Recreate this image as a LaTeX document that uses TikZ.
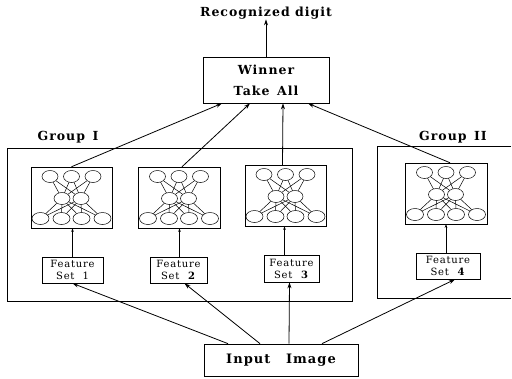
\documentclass[tikz,border=0pt]{standalone}
\usepackage{fontspec}
\setmainfont{DejaVu Serif}[LetterSpace=8]
\usetikzlibrary{arrows.meta,calc}

\tikzset{
  box/.style={draw, line width=0.7pt, rectangle, inner sep=0pt, align=center},
  netbox/.style={draw, line width=0.5pt, rectangle, inner sep=0pt},
  grpbox/.style={draw, line width=1pt, rectangle, inner sep=0pt},
  title/.style={font=\bfseries\fontsize{12.5}{14}\selectfont, inner sep=0pt},
  feat/.style={box, font=\fontsize{10}{12}\selectfont},
  link/.style={line width=0.8pt, -{Stealth[length=6pt,width=4pt]}},
  feed/.style={line width=0.5pt, -{Stealth[length=3.5pt,width=2.5pt]}},
  unit/.style={line width=0.5pt, fill=white},
  % small three-layer network: 3 top units, 2 hidden, 4 bottom
  mlp/.pic={
    \foreach \a in {-21.5,0,21.5}
      \foreach \b in {-9.5,9.5}
        \draw[line width=0.5pt] (\a,-21) -- (\b,1);
    \foreach \a in {-9.5,9.5}
      \foreach \b in {-31,-10,10,31}
        \draw[line width=0.5pt] (\a,1) -- (\b,21);
    \foreach \a in {-21.5,0,21.5}
      \draw[unit] (\a,-21) ellipse [x radius=8pt, y radius=6pt];
    \foreach \a in {-9.5,9.5}
      \draw[unit] (\a,1) ellipse [x radius=8pt, y radius=6pt];
    \foreach \a in {-31,-10,10,31}
      \draw[unit] (\a,21) ellipse [x radius=8.5pt, y radius=6pt];
  },
}

\begin{document}
\begin{tikzpicture}[x=1pt, y=-1pt]
\useasboundingbox (0,0) rectangle (512,378);

% output and decision
\node[title] (rec) at (266,13) {Recognized digit};
\node[box, title, minimum width=126pt, minimum height=46pt,
      font=\bfseries\fontsize{12.5}{21}\selectfont] (win) at (266,80)
      {Winner\\Take\hspace{0.6em}All};

% groups
\node[grpbox, minimum width=345pt, minimum height=153pt] (g1) at (179.5,224.5) {};
\draw[line width=1pt] (511,146) -| (377,298) -- (511,298);
\node[title] (g1lab) at (68,137) {Group\hspace{0.6em}I};
\node[title] (g2lab) at (453,137) {Group\hspace{0.6em}II};

% networks
\node[netbox, minimum width=81pt, minimum height=61pt] (n1) at (71.5,197.5) {};
\node[netbox, minimum width=82pt, minimum height=61pt] (n2) at (179,197.5) {};
\node[netbox, minimum width=81pt, minimum height=61pt] (n3) at (285.5,195.5) {};
\node[netbox, minimum width=82pt, minimum height=61pt] (n4) at (446,193.5) {};
\pic at (n1) {mlp};
\pic at (n2) {mlp};
\pic at (n3) {mlp};
\pic at (n4) {mlp};

% feature sets
\node[feat, minimum width=61pt, minimum height=26pt] (f1) at (72.5,270) {Feature\\Set\hspace{0.8em}1};
\node[feat, minimum width=57pt, minimum height=26pt] (f2) at (178.5,270) {Feature\\Set\hspace{0.8em}\textbf{2}};
\node[feat, minimum width=55pt, minimum height=27pt] (f3) at (291.5,268.5) {Feature\\Set\hspace{0.8em}\textbf{3}};
\node[feat, minimum width=64pt, minimum height=26pt] (f4) at (448,266) {Feature\\Set\hspace{0.8em}\textbf{4}};

% input
\node[box, title, minimum width=154pt, minimum height=32pt,
      font=\bfseries\fontsize{13}{15}\selectfont] (inp) at (281,360)
      {Input\hspace{1.2em}Image};

% connectors
\draw[link] (win.north) -- (rec.south);
\draw[link] (n1.north) -- ([xshift=-44pt]win.south);
\draw[link] ([xshift=3pt]n2.north) -- ([xshift=-16pt]win.south);
\draw[link] ([xshift=-3pt]n3.north) -- ([xshift=17pt]win.south);
\draw[link] ([xshift=4pt]n4.north) -- ([xshift=42pt]win.south);

\draw[feed] (f1.north) -- (f1.north |- n1.south);
\draw[feed] ([xshift=1pt]f2.north) -- ([xshift=1pt]f2.north |- n2.south);
\draw[feed] ([xshift=-7pt]f3.north) -- ([xshift=-7pt]f3.north |- n3.south);
\draw[feed] ([xshift=-2pt]f4.north) -- ([xshift=-2pt]f4.north |- n4.south);

\draw[link] ([xshift=-53pt]inp.north) -- (f1.south);
\draw[link] ([xshift=-21pt]inp.north) -- ([xshift=6pt]f2.south);
\draw[link] ([xshift=8pt]inp.north) -- ([xshift=-2pt]f3.south);
\draw[link] ([xshift=41pt]inp.north) -- ([xshift=7pt]f4.south);
\end{tikzpicture}
\end{document}
